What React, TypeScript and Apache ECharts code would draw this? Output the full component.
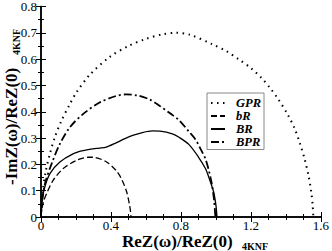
import React, { useEffect, useRef } from "react";
import * as echarts from "echarts";

const seriesNames = ["GPR", "bR", "BR", "BPR"];

const gpr: number[][] = [
  [0, 0], [0.003, 0.04], [0.01, 0.1], [0.028, 0.177], [0.051, 0.24], [0.079, 0.303],
  [0.117, 0.366], [0.165, 0.429], [0.202, 0.473], [0.278, 0.54], [0.39, 0.607],
  [0.5, 0.65], [0.6, 0.677], [0.7, 0.695], [0.77, 0.7], [0.85, 0.693], [0.978, 0.657],
  [1.06, 0.63], [1.129, 0.6], [1.2, 0.566], [1.261, 0.528], [1.31, 0.49], [1.356, 0.448],
  [1.41, 0.39], [1.451, 0.335], [1.48, 0.28], [1.507, 0.221], [1.53, 0.155],
  [1.545, 0.095], [1.553, 0.045], [1.557, 0],
];

const bR: number[][] = [
  [0, 0], [0.005, 0.03], [0.015, 0.06], [0.032, 0.089], [0.07, 0.14], [0.127, 0.184],
  [0.202, 0.215], [0.268, 0.227], [0.297, 0.227], [0.373, 0.21], [0.429, 0.177],
  [0.46, 0.145], [0.49, 0.095], [0.505, 0.05], [0.512, 0.02], [0.514, 0],
];

const BR: number[][] = [
  [0, 0], [0.004, 0.04], [0.017, 0.102], [0.051, 0.165], [0.108, 0.209], [0.183, 0.24],
  [0.24, 0.252], [0.297, 0.259], [0.335, 0.262], [0.373, 0.266], [0.429, 0.282],
  [0.48, 0.298], [0.524, 0.31], [0.58, 0.321], [0.637, 0.327], [0.68, 0.326],
  [0.751, 0.316], [0.789, 0.303], [0.845, 0.276], [0.9, 0.228], [0.94, 0.184],
  [0.965, 0.14], [0.987, 0.095], [1.0, 0.045], [1.006, 0],
];

const BPR: number[][] = [
  [0, 0], [0.004, 0.05], [0.023, 0.127], [0.061, 0.203], [0.108, 0.278], [0.165, 0.341],
  [0.24, 0.391], [0.335, 0.435], [0.429, 0.46], [0.486, 0.466], [0.55, 0.462],
  [0.62, 0.447], [0.675, 0.424], [0.74, 0.393], [0.789, 0.368], [0.845, 0.325],
  [0.883, 0.295], [0.915, 0.255], [0.94, 0.221], [0.962, 0.17], [0.978, 0.121],
  [0.99, 0.06], [0.997, 0],
];

const xTitle = "ReZ(ω)/ReZ(0)";
const yTitle = "-ImZ(ω)/ReZ(0)";
const titleSub = "4KNF";

const SERIF = "Liberation Serif";

export default function App() {
  const ref = useRef<HTMLDivElement>(null);
  useEffect(() => {
    if (!ref.current) return;
    const chart = echarts.init(ref.current, null, { renderer: "svg" });
    const axisLine = { show: true, lineStyle: { color: "#000", width: 1.5 } };
    const baseAxis = {
      axisLine,
      splitLine: { show: false },
      axisTick: { show: true, inside: true, length: 5, lineStyle: { color: "#000", width: 1 } },
      minorTick: { show: true, length: 3, lineStyle: { color: "#000", width: 1 } },
    };
    const mk = (name: string, data: number[][], type: any, width: number) => ({
      name,
      type: "line",
      data,
      showSymbol: false,
      symbol: "none",
      smooth: 0.3,
      lineStyle: { color: "#000", width, type },
      itemStyle: { color: "#000" },
    });
    const titleStyle = {
      fontFamily: SERIF,
      fontWeight: "bold",
      fontSize: 17,
      fill: "#000",
    };
    const subStyle = {
      fontFamily: SERIF,
      fontWeight: "bold",
      fontSize: 10,
      fill: "#000",
    };
    chart.setOption({
      animation: false,
      grid: { left: 41, right: 9, top: 5, bottom: 34 },
      xAxis: [
        {
          ...baseAxis,
          type: "value",
          min: 0,
          max: 1.6,
          interval: 0.4,
          minorTick: { ...baseAxis.minorTick, splitNumber: 4 },
          axisLabel: { color: "#000", fontFamily: SERIF, fontSize: 13, margin: 2, lineHeight: 13 },
        },
        {
          ...baseAxis,
          type: "value",
          position: "top",
          min: 0,
          max: 1.6,
          interval: 0.4,
          minorTick: { ...baseAxis.minorTick, splitNumber: 4 },
          axisLabel: { show: false },
        },
      ],
      yAxis: [
        {
          ...baseAxis,
          type: "value",
          min: 0,
          max: 0.8,
          interval: 0.1,
          minorTick: { ...baseAxis.minorTick, splitNumber: 2 },
          axisLabel: { color: "#000", fontFamily: SERIF, fontSize: 13, margin: 4 },
        },
        {
          ...baseAxis,
          type: "value",
          position: "right",
          min: 0,
          max: 0.8,
          interval: 0.1,
          minorTick: { ...baseAxis.minorTick, splitNumber: 2 },
          axisLabel: { show: false },
        },
      ],
      legend: {
        orient: "vertical",
        left: 207,
        top: 93,
        itemWidth: 14,
        itemHeight: 10,
        itemGap: 0,
        padding: [3.5, 3, 1, 3],
        borderColor: "#888",
        borderWidth: 1,
        backgroundColor: "#fff",
        data: seriesNames,
        itemStyle: { opacity: 0 },
        textStyle: {
          color: "#000",
          fontFamily: SERIF,
          fontSize: 12.5,
          lineHeight: 12.5,
          fontWeight: "bold",
          fontStyle: "italic",
          padding: [0, 0, 0, 6],
        },
      },
      series: [
        mk(seriesNames[0], gpr, [1.5, 4.5], 2),
        mk(seriesNames[1], bR, [6, 3], 1.3),
        mk(seriesNames[2], BR, "solid", 1.3),
        mk(seriesNames[3], BPR, [8, 3, 2, 3], 1.8),
      ],
      graphic: [
        {
          type: "text",
          x: 122,
          y: 241.5,
          style: { text: xTitle, ...titleStyle, align: "left", verticalAlign: "middle" },
        },
        {
          type: "text",
          x: 242,
          y: 246,
          style: { text: titleSub, ...subStyle, align: "left", verticalAlign: "middle" },
        },
        {
          type: "text",
          x: 11.5,
          y: 185,
          rotation: Math.PI / 2,
          style: { text: yTitle, ...titleStyle, align: "left", verticalAlign: "middle" },
        },
        {
          type: "text",
          x: 16.5,
          y: 55,
          rotation: Math.PI / 2,
          style: { text: titleSub, ...subStyle, align: "left", verticalAlign: "middle" },
        },
      ],
    });
    return () => chart.dispose();
  }, []);
  return <div ref={ref} style={{ width: 332, height: 251, position: "absolute", left: 0, top: 0 }} />;
}
